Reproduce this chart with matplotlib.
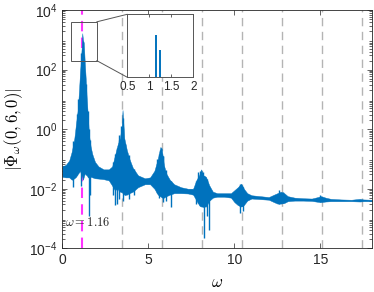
import numpy as np
import matplotlib
matplotlib.use("Agg")
import matplotlib.pyplot as plt
from matplotlib.patches import Rectangle, ConnectionPatch

plt.rcParams['font.family'] = ['Liberation Sans', 'DejaVu Sans']
plt.rcParams['mathtext.fontset'] = 'cm'

# spectrum envelope (log10 of |Phi|)
omega = [0, 0.2, 0.4, 0.55, 0.7, 0.8, 0.9, 0.97, 1.03, 1.08, 1.12, 1.16, 1.2, 1.25,
         1.3, 1.36, 1.42, 1.48, 1.55, 1.65, 1.75, 1.9, 2.1, 2.4, 2.7, 2.9, 3.05, 3.2,
         3.35, 3.45, 3.5, 3.6, 3.75, 3.9, 4.1, 4.4, 4.8, 5.1, 5.35, 5.55, 5.7, 5.78,
         5.9, 6.05, 6.25, 6.5, 6.9, 7.3, 7.6, 7.8, 7.95, 8.07, 8.2, 8.35, 8.55, 8.75,
         9.0, 9.4, 9.8, 10.0, 10.2, 10.4, 10.55, 10.75, 11.0, 11.5, 12.0, 12.3, 12.5,
         12.7, 12.9, 13.1, 13.5, 14.0, 14.5, 14.85, 15.05, 15.3, 15.6, 16.2, 16.8,
         17.3, 17.5, 18]
upper_exp = [-1.25, -1.2, -1.05, -0.75, -0.3, 0.2, 0.65, 1.3, 1.9, 2.3, 2.7, 3.22, 3.0, 2.9,
             2.3, 1.7, 1.0, 0.5, -0.2, -0.6, -0.85, -1.1, -1.25, -1.35, -1.35, -1.25, -0.9, -0.55,
             -0.3, 0.1, 0.64, -0.3, -0.7, -1.0, -1.3, -1.55, -1.65, -1.62, -1.4, -1.0, -0.6, -0.65,
             -1.2, -1.5, -1.7, -1.85, -1.95, -2.0, -2.0, -1.7, -1.55, -1.35, -1.55, -1.6, -1.9, -2.1,
             -2.15, -2.15, -2.15, -2.05, -1.95, -1.83, -2.0, -2.15, -2.22, -2.25, -2.28, -2.2, -2.15,
             -2.1, -2.15, -2.25, -2.3, -2.32, -2.33, -2.28, -2.25, -2.3, -2.34, -2.36, -2.37,
             -2.34, -2.36, -2.37]
lower_exp = [-1.6, -1.62, -1.62, -1.7, -1.65, -1.6, -1.5, -1.45, -1.4, -1.5, -1.55, -1.6, -1.7, -1.6,
             -1.5, -1.5, -1.55, -1.6, -1.65, -1.6, -1.62, -1.65, -1.66, -1.68, -1.72, -1.9, -2.05, -2.0,
             -2.1, -2.1, -2.15, -2.2, -2.2, -2.15, -2.1, -1.95, -1.85, -1.85, -2.0, -2.2, -2.25, -2.3,
             -2.3, -2.25, -2.2, -2.15, -2.15, -2.16, -2.2, -2.4, -2.55, -2.6, -2.6, -2.6, -2.4, -2.3,
             -2.27, -2.27, -2.3, -2.45, -2.55, -2.6, -2.55, -2.4, -2.33, -2.35, -2.37, -2.45, -2.5,
             -2.5, -2.48, -2.42, -2.4, -2.4, -2.41, -2.44, -2.45, -2.43, -2.42, -2.42, -2.42,
             -2.43, -2.42, -2.42]

# narrow downward spikes (omega, log10 of lowest value)
spike_omega = [0.65, 1.1, 1.54, 1.6, 2.95, 3.07, 3.15, 3.3, 3.55, 3.85, 4.15,
               5.6, 5.85, 6.0, 6.3, 7.75, 8.26, 8.4, 8.55, 10.3, 10.5]
spike_exp = [-1.95, -1.9, -2.9, -2.2, -2.2, -2.55, -2.5, -2.35, -2.4, -2.35, -2.2,
             -2.3, -2.45, -2.4, -2.6, -2.5, -3.67, -2.9, -3.4, -2.8, -2.75]

# narrow upward spikes (omega, log10 of highest value)
peak_omega = [0.85, 0.93, 1.4, 1.5, 3.3, 3.4, 3.65, 5.5, 5.65, 5.85, 7.9, 8.0, 8.15,
              10.3, 10.45, 12.6, 12.8, 14.95]
peak_exp = [0.5, 1.0, 1.5, 0.6, -0.2, 0.1, -0.5, -1.0, -0.7, -0.9, -1.45, -1.4, -1.45,
            -1.85, -1.9, -2.05, -2.1, -2.2]

omega_res = 1.16
harmonics = [3, 5, 7, 9, 11, 13, 15]

# zoomed window
inset_peak_omega = [1.16, 1.25]
inset_peak_val = [1690, 1100]

blue = '#0072BD'
axc = '#262626'

upper = 10.0 ** np.array(upper_exp)
lower = 10.0 ** np.array(lower_exp)
spike_lo = 10.0 ** np.array(spike_exp)
spike_hi = np.interp(spike_omega, omega, upper)
peak_hi = 10.0 ** np.array(peak_exp)
peak_lo = np.interp(peak_omega, omega, lower)

fig = plt.figure(figsize=(3.74, 2.92), dpi=100)
ax = fig.add_axes([0.1666, 0.1497, 0.8281, 0.8161])
ax.set_yscale('log')

for h in harmonics:
    ax.axvline(omega_res * h, color='#b4b4b4', lw=1.0, ls=(0, (6, 4)), zorder=1)
ax.axvline(omega_res, color='#ff33ff', lw=1.5, ls=(0, (5, 3)), zorder=1.5)

ax.fill_between(omega, lower, upper, color=blue, lw=0.3, edgecolor=blue, zorder=2)
ax.vlines(spike_omega, spike_lo, spike_hi, color=blue, lw=1.0, zorder=2)
ax.vlines(peak_omega, peak_lo, peak_hi, color=blue, lw=1.0, zorder=2)

ax.set_xlim(0, 18)
ax.set_ylim(1e-4, 1e4)
ax.set_xticks([0, 5, 10, 15])
ax.set_yticks([1e-4, 1e-2, 1e0, 1e2, 1e4])
ax.tick_params(which='both', direction='in', top=True, right=True, colors=axc,
               labelsize=10, width=0.5)
ax.tick_params(which='major', length=3.5)
ax.tick_params(which='minor', length=2)
ax.tick_params(axis='x', which='minor', bottom=False, top=False)
for s in ax.spines.values():
    s.set_color(axc)
    s.set_linewidth(0.6)

ax.text(0.17, 10 ** -3.12, r'$\omega = 1.16$', fontsize=9, va='center', ha='left', color=axc)
ax.set_xlabel(r'$\omega$', fontsize=12, labelpad=6)
ax.set_ylabel(r'$|\Phi_\omega(0,6,0)|$', fontsize=12, labelpad=3)

# marked region and inset
x0, x1, y0, y1 = 0.5, 2.0, 200, 4000
ax.add_patch(Rectangle((x0, y0), x1 - x0, y1 - y0, fill=False, ec='#555555', lw=0.7, zorder=3))

ins = fig.add_axes([0.3404, 0.7353, 0.1765, 0.2158])
ins.vlines(inset_peak_omega, 0, inset_peak_val, color=blue, lw=1.4)
ins.set_xlim(0.5, 2)
ins.set_ylim(0, 2500)
ins.set_xticks([0.5, 1, 1.5, 2])
ins.set_xticklabels(['0.5', '1', '1.5', '2'])
ins.set_yticks([])
ins.tick_params(direction='in', top=True, colors=axc, labelsize=8.5, width=0.5, length=2.5, pad=3)
for s in ins.spines.values():
    s.set_color('#555555')
    s.set_linewidth(0.7)

for (xa, ya), (xb, yb) in [((x1, y1), (0, 1)), ((x1, y0), (0, 0))]:
    con = ConnectionPatch(xyA=(xa, ya), coordsA=ax.transData, xyB=(xb, yb),
                          coordsB=ins.transAxes, color='#555555', lw=0.7)
    fig.add_artist(con)

fig.savefig('out.png', dpi=100)
